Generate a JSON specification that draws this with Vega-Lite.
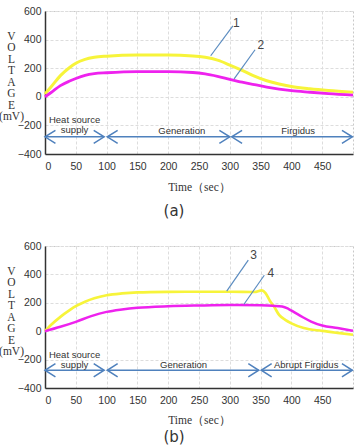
{
  "$schema": "https://vega.github.io/schema/vega-lite/v6.json",
  "padding": {"left": -2, "top": 5, "right": 0, "bottom": 0},
  "background": "white",
  "spacing": 20,
  "config": {
    "font": "Liberation Sans",
    "view": {"stroke": "#c8c8c8", "strokeDash": [2, 2], "strokeWidth": 1},
    "axis": {
      "labelFont": "Liberation Sans", "labelFontSize": 10.5, "labelColor": "#333333",
      "labelOverlap": false, "labelSeparation": -200, "labelBound": false,
      "domainColor": "#333333", "domainWidth": 1.5, "ticks": false,
      "gridColor": "#dddddd", "gridDash": [3, 2], "gridWidth": 1,
      "titleFont": "Liberation Serif", "titleFontWeight": "normal", "titleFontSize": 11.5, "titleColor": "#333333"
    }
  },
  "datasets": {
    "a_curves": [
      {"series": "1", "t": 0, "v": 20}, {"series": "1", "t": 10, "v": 70}, {"series": "1", "t": 25, "v": 148},
      {"series": "1", "t": 40, "v": 205}, {"series": "1", "t": 50, "v": 235}, {"series": "1", "t": 65, "v": 262},
      {"series": "1", "t": 80, "v": 276}, {"series": "1", "t": 100, "v": 284}, {"series": "1", "t": 150, "v": 292},
      {"series": "1", "t": 200, "v": 292}, {"series": "1", "t": 240, "v": 286}, {"series": "1", "t": 260, "v": 276},
      {"series": "1", "t": 280, "v": 256}, {"series": "1", "t": 300, "v": 222}, {"series": "1", "t": 320, "v": 185},
      {"series": "1", "t": 340, "v": 145}, {"series": "1", "t": 360, "v": 112}, {"series": "1", "t": 380, "v": 89},
      {"series": "1", "t": 400, "v": 72}, {"series": "1", "t": 430, "v": 56}, {"series": "1", "t": 460, "v": 44},
      {"series": "1", "t": 500, "v": 32},
      {"series": "2", "t": 0, "v": 0}, {"series": "2", "t": 10, "v": 30}, {"series": "2", "t": 25, "v": 78},
      {"series": "2", "t": 40, "v": 110}, {"series": "2", "t": 50, "v": 128}, {"series": "2", "t": 65, "v": 150},
      {"series": "2", "t": 80, "v": 162}, {"series": "2", "t": 100, "v": 168}, {"series": "2", "t": 150, "v": 176},
      {"series": "2", "t": 200, "v": 176}, {"series": "2", "t": 240, "v": 170}, {"series": "2", "t": 260, "v": 160},
      {"series": "2", "t": 280, "v": 143}, {"series": "2", "t": 300, "v": 122}, {"series": "2", "t": 320, "v": 102},
      {"series": "2", "t": 340, "v": 85}, {"series": "2", "t": 360, "v": 68}, {"series": "2", "t": 380, "v": 54},
      {"series": "2", "t": 400, "v": 43}, {"series": "2", "t": 430, "v": 32}, {"series": "2", "t": 460, "v": 22},
      {"series": "2", "t": 500, "v": 12}
    ],
    "b_curves": [
      {"series": "3", "t": 0, "v": 0}, {"series": "3", "t": 10, "v": 45}, {"series": "3", "t": 25, "v": 101},
      {"series": "3", "t": 40, "v": 148}, {"series": "3", "t": 50, "v": 176}, {"series": "3", "t": 65, "v": 208},
      {"series": "3", "t": 80, "v": 232}, {"series": "3", "t": 100, "v": 253}, {"series": "3", "t": 125, "v": 266},
      {"series": "3", "t": 150, "v": 273}, {"series": "3", "t": 200, "v": 277}, {"series": "3", "t": 250, "v": 278},
      {"series": "3", "t": 300, "v": 278}, {"series": "3", "t": 340, "v": 276}, {"series": "3", "t": 352, "v": 288},
      {"series": "3", "t": 358, "v": 268}, {"series": "3", "t": 365, "v": 215}, {"series": "3", "t": 372, "v": 172},
      {"series": "3", "t": 380, "v": 115}, {"series": "3", "t": 390, "v": 80}, {"series": "3", "t": 400, "v": 55},
      {"series": "3", "t": 420, "v": 22}, {"series": "3", "t": 450, "v": 2}, {"series": "3", "t": 475, "v": -12},
      {"series": "3", "t": 500, "v": -25},
      {"series": "4", "t": 0, "v": 0}, {"series": "4", "t": 25, "v": 31}, {"series": "4", "t": 50, "v": 66},
      {"series": "4", "t": 75, "v": 106}, {"series": "4", "t": 100, "v": 136}, {"series": "4", "t": 125, "v": 153},
      {"series": "4", "t": 150, "v": 165}, {"series": "4", "t": 200, "v": 176}, {"series": "4", "t": 250, "v": 181},
      {"series": "4", "t": 300, "v": 184}, {"series": "4", "t": 350, "v": 182}, {"series": "4", "t": 370, "v": 179},
      {"series": "4", "t": 385, "v": 174}, {"series": "4", "t": 395, "v": 158}, {"series": "4", "t": 405, "v": 133},
      {"series": "4", "t": 418, "v": 100}, {"series": "4", "t": 432, "v": 68}, {"series": "4", "t": 450, "v": 40},
      {"series": "4", "t": 475, "v": 22}, {"series": "4", "t": 500, "v": 3}
    ],
    "a_arrows": [
      {"t": 0, "t2": 96, "v": -280}, {"t": 101, "t2": 300, "v": -280}, {"t": 303, "t2": 499, "v": -280}
    ],
    "a_heads": [
      {"t": 0, "v": -280, "dir": "left"}, {"t": 96, "v": -280, "dir": "right"},
      {"t": 101, "v": -280, "dir": "left"}, {"t": 300, "v": -280, "dir": "right"},
      {"t": 303, "v": -280, "dir": "left"}, {"t": 499, "v": -280, "dir": "right"}
    ],
    "a_texts": [
      {"t": 48, "v": -160, "label": "Heat source"}, {"t": 48, "v": -230, "label": "supply"},
      {"t": 222, "v": -238, "label": "Generation"}, {"t": 411, "v": -238, "label": "Firgidus"}
    ],
    "a_leaders": [
      {"t": 269, "v": 287, "t2": 305, "v2": 496}, {"t": 307, "v": 126, "t2": 341, "v2": 329}
    ],
    "a_labels": [
      {"t": 305, "v": 517, "label": "1"}, {"t": 345, "v": 364, "label": "2"}
    ],
    "b_arrows": [
      {"t": 0, "t2": 96, "v": -275}, {"t": 101, "t2": 347, "v": -275}, {"t": 351, "t2": 499, "v": -275}
    ],
    "b_heads": [
      {"t": 0, "v": -275, "dir": "left"}, {"t": 96, "v": -275, "dir": "right"},
      {"t": 101, "v": -275, "dir": "left"}, {"t": 347, "v": -275, "dir": "right"},
      {"t": 351, "v": -275, "dir": "left"}, {"t": 499, "v": -275, "dir": "right"}
    ],
    "b_texts": [
      {"t": 48, "v": -168, "label": "Heat source"}, {"t": 48, "v": -238, "label": "supply"},
      {"t": 225, "v": -240, "label": "Generation"}, {"t": 424, "v": -240, "label": "Abrupt Firgidus"}
    ],
    "b_leaders": [
      {"t": 295, "v": 282, "t2": 330, "v2": 500}, {"t": 323, "v": 190, "t2": 356, "v2": 394}
    ],
    "b_labels": [
      {"t": 333, "v": 535, "label": "3"}, {"t": 361, "v": 408, "label": "4"}
    ]
  },
  "vconcat": [
    {
      "width": 308, "height": 143,
      "title": {"text": "(a)", "orient": "bottom", "fontSize": 15, "fontWeight": "normal", "font": "DejaVu Sans", "color": "#333333", "offset": 11, "dx": -25},
      "encoding": {
        "x": {"field": "t", "type": "quantitative", "scale": {"domain": [0, 500], "nice": false},
              "axis": {"values": [0, 50, 100, 150, 200, 250, 300, 350, 400, 450], "labelOverlap": false, "labelSeparation": -200, "title": "Time（sec）", "labelPadding": 7, "titlePadding": 10}},
        "y": {"field": "v", "type": "quantitative", "scale": {"domain": [-400, 600], "nice": false},
              "axis": {"values": [-400, -200, 0, 200, 400, 600], "labelOverlap": false, "labelSeparation": -200, "labelPadding": 4,
                       "title": ["V", "O", "L", "T", "A", "G", "E", "(mV)"], "titleAngle": 0, "titleAlign": "center",
                       "titleBaseline": "top", "titleLineHeight": 11.5, "titleX": -34, "titleY": 19}}
      },
      "layer": [
        {
          "data": {"name": "a_curves"},
          "mark": {"type": "line", "interpolate": "monotone"},
          "encoding": {
            "color": {"field": "series", "type": "nominal", "scale": {"domain": ["1", "2"], "range": ["#f7f43a", "#ee22ee"]}, "legend": null},
            "strokeWidth": {"field": "series", "type": "nominal", "scale": {"domain": ["1", "2"], "range": [3, 2.5]}, "legend": null}
          }
        },
        {
          "data": {"name": "a_arrows"},
          "mark": {"type": "rule", "color": "#4f81bd", "strokeWidth": 1.5},
          "encoding": {"x2": {"field": "t2"}}
        },
        {
          "data": {"name": "a_heads"},
          "mark": {"type": "point", "filled": false, "color": "#4f81bd", "strokeWidth": 1.5, "size": 170, "opacity": 1},
          "encoding": {
            "shape": {"field": "dir", "type": "nominal", "scale": {"domain": ["left", "right"], "range": ["M1.6,-1L0,0L1.6,1", "M-1.6,-1L0,0L-1.6,1"]}, "legend": null}
          }
        },
        {
          "data": {"name": "a_texts"},
          "mark": {"type": "text", "fontSize": 9.5, "font": "Liberation Sans", "color": "#333333", "baseline": "middle", "align": "center"},
          "encoding": {"text": {"field": "label"}}
        },
        {
          "data": {"name": "a_leaders"},
          "mark": {"type": "rule", "color": "#5b8cc0", "strokeWidth": 1.2},
          "encoding": {"x2": {"field": "t2"}, "y2": {"field": "v2"}}
        },
        {
          "data": {"name": "a_labels"},
          "mark": {"type": "text", "fontSize": 12, "color": "#444444", "align": "left", "baseline": "middle"},
          "encoding": {"text": {"field": "label"}}
        }
      ]
    },
    {
      "width": 308, "height": 142,
      "title": {"text": "(b)", "orient": "bottom", "fontSize": 15, "fontWeight": "normal", "font": "DejaVu Sans", "color": "#333333", "offset": 4, "dx": -25},
      "encoding": {
        "x": {"field": "t", "type": "quantitative", "scale": {"domain": [0, 500], "nice": false},
              "axis": {"values": [0, 50, 100, 150, 200, 250, 300, 350, 400, 450], "labelOverlap": false, "labelSeparation": -200, "title": "Time（sec）", "labelPadding": 7, "titlePadding": 9}},
        "y": {"field": "v", "type": "quantitative", "scale": {"domain": [-400, 600], "nice": false},
              "axis": {"values": [-400, -200, 0, 200, 400, 600], "labelOverlap": false, "labelSeparation": -200, "labelPadding": 4,
                       "title": ["V", "O", "L", "T", "A", "G", "E", "(mV)"], "titleAngle": 0, "titleAlign": "center",
                       "titleBaseline": "top", "titleLineHeight": 11.5, "titleX": -34, "titleY": 19}}
      },
      "layer": [
        {
          "data": {"name": "b_curves"},
          "mark": {"type": "line", "interpolate": "monotone"},
          "encoding": {
            "color": {"field": "series", "type": "nominal", "scale": {"domain": ["3", "4"], "range": ["#f7f43a", "#ee22ee"]}, "legend": null},
            "strokeWidth": {"field": "series", "type": "nominal", "scale": {"domain": ["3", "4"], "range": [3, 2.5]}, "legend": null}
          }
        },
        {
          "data": {"name": "b_arrows"},
          "mark": {"type": "rule", "color": "#4f81bd", "strokeWidth": 1.5},
          "encoding": {"x2": {"field": "t2"}}
        },
        {
          "data": {"name": "b_heads"},
          "mark": {"type": "point", "filled": false, "color": "#4f81bd", "strokeWidth": 1.5, "size": 170, "opacity": 1},
          "encoding": {
            "shape": {"field": "dir", "type": "nominal", "scale": {"domain": ["left", "right"], "range": ["M1.6,-1L0,0L1.6,1", "M-1.6,-1L0,0L-1.6,1"]}, "legend": null}
          }
        },
        {
          "data": {"name": "b_texts"},
          "mark": {"type": "text", "fontSize": 9.5, "font": "Liberation Sans", "color": "#333333", "baseline": "middle", "align": "center"},
          "encoding": {"text": {"field": "label"}}
        },
        {
          "data": {"name": "b_leaders"},
          "mark": {"type": "rule", "color": "#5b8cc0", "strokeWidth": 1.2},
          "encoding": {"x2": {"field": "t2"}, "y2": {"field": "v2"}}
        },
        {
          "data": {"name": "b_labels"},
          "mark": {"type": "text", "fontSize": 12, "color": "#444444", "align": "left", "baseline": "middle"},
          "encoding": {"text": {"field": "label"}}
        }
      ]
    }
  ]
}
